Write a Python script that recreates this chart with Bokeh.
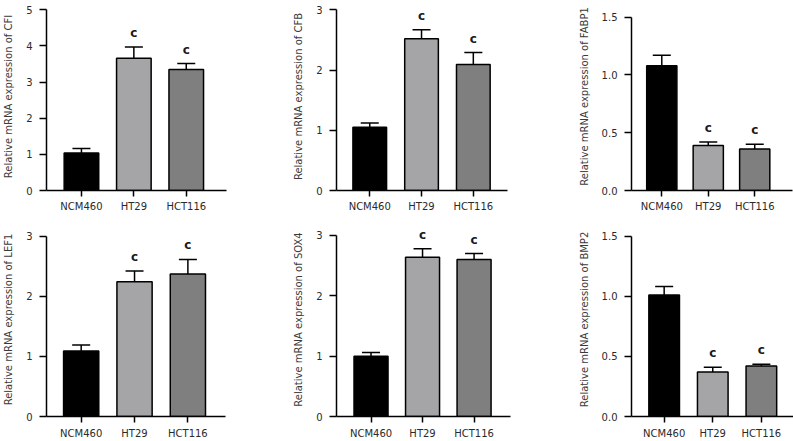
from bokeh.plotting import figure
from bokeh.layouts import row, column
from bokeh.models import FixedTicker, Range1d, Whisker, ColumnDataSource, TeeHead, PrintfTickFormatter
from bokeh.core.properties import value
from bokeh.embed import file_html
from bokeh.resources import INLINE

# ---------------- data ----------------
categories = ["NCM460", "HT29", "HCT116"]
sig_labels = ["", "c", "c"]

cfi_mean = [1.04, 3.66, 3.35]
cfi_sd = [0.12, 0.31, 0.16]
cfb_mean = [1.05, 2.52, 2.09]
cfb_sd = [0.07, 0.15, 0.20]
fabp1_mean = [1.08, 0.39, 0.36]
fabp1_sd = [0.09, 0.03, 0.04]
lef1_mean = [1.09, 2.24, 2.37]
lef1_sd = [0.10, 0.18, 0.24]
sox4_mean = [1.00, 2.64, 2.60]
sox4_sd = [0.06, 0.14, 0.10]
bmp2_mean = [1.01, 0.37, 0.42]
bmp2_sd = [0.07, 0.04, 0.015]

ticks_cfi = [0, 1, 2, 3, 4, 5]
ticks_3 = [0, 1, 2, 3]
ticks_15 = [0, 0.5, 1.0, 1.5]

bar_colors = ["#000000", "#a5a5a7", "#7f7f7f"]
FONT = "DejaVu Sans"
TXT = "#2a2a2a"


def panel(gene, means, sds, ticks, fmt, width, height, x_start, x_end, y_end,
          bl, br, bt, bb, bar_w, xstand):
    xs = list(range(len(categories)))
    tops = [m + s for m, s in zip(means, sds)]
    src = ColumnDataSource(dict(x=xs, mean=means, top=tops,
                                color=bar_colors, sig=sig_labels))
    p = figure(width=width, height=height,
               x_range=Range1d(x_start, x_end), y_range=Range1d(0, y_end),
               output_backend="svg", toolbar_location=None,
               min_border_left=bl, min_border_right=br,
               min_border_top=bt, min_border_bottom=bb)
    p.outline_line_color = None
    p.background_fill_color = "white"
    p.border_fill_color = "white"
    p.xgrid.visible = False
    p.ygrid.visible = False

    p.vbar(x="x", top="mean", bottom=0, width=bar_w, fill_color="color",
           line_color="black", line_width=1.5, source=src)
    wh = Whisker(base="x", lower="mean", upper="top", source=src,
                 dimension="height", line_color="black", line_width=1.5,
                 lower_head=None,
                 upper_head=TeeHead(size=18, line_color="black", line_width=1.5))
    p.add_layout(wh)
    p.text(x="x", y="top", text="sig", source=src, text_align="center",
           text_baseline="bottom", y_offset=-7,
           text_font=value(FONT), text_font_size="12px",
           text_font_style="bold", text_color="#1a1a1a")

    xa = p.xaxis[0]
    xa.ticker = FixedTicker(ticks=xs, minor_ticks=[])
    xa.major_label_overrides = {i: c for i, c in enumerate(categories)}
    xa.major_tick_out = 6
    xa.major_tick_in = 0
    xa.minor_tick_out = 0
    xa.minor_tick_in = 0
    xa.major_label_standoff = xstand
    xa.axis_line_width = 1.5
    xa.major_tick_line_width = 1.5
    xa.axis_line_color = "black"
    xa.major_tick_line_color = "black"
    xa.major_label_text_font = FONT
    xa.major_label_text_font_size = "10px"
    xa.major_label_text_color = TXT

    ya = p.yaxis[0]
    ya.ticker = FixedTicker(ticks=ticks, minor_ticks=[])
    ya.formatter = PrintfTickFormatter(format=fmt)
    ya.bounds = (0, ticks[-1])
    ya.major_tick_out = 7
    ya.major_tick_in = 0
    ya.minor_tick_out = 0
    ya.minor_tick_in = 0
    ya.major_label_standoff = 7
    ya.axis_line_width = 1.5
    ya.major_tick_line_width = 1.5
    ya.axis_line_color = "black"
    ya.major_tick_line_color = "black"
    ya.major_label_text_font = FONT
    ya.major_label_text_font_size = "10px"
    ya.major_label_text_color = TXT
    ya.axis_label = "Relative mRNA expression of " + gene
    ya.axis_label_text_font = FONT
    ya.axis_label_text_font_size = "10px"
    ya.axis_label_text_font_style = "normal"
    ya.axis_label_text_color = "#3a3a3a"
    ya.axis_label_standoff = 9
    return p


p1 = panel("CFI", cfi_mean, cfi_sd, ticks_cfi, "%d", 290, 220, -0.667, 2.768, 5.20, 43, 64, 2, 30, 0.66, 4)
p2 = panel("CFB", cfb_mean, cfb_sd, ticks_3, "%d", 285, 220, -0.642, 2.66, 3.121, 36, 68, 2, 30, 0.65, 4)
p3 = panel("FABP1", fabp1_mean, fabp1_sd, ticks_15, "%.1f", 218, 220, -0.652, 2.813, 1.626, 38, 1, 2, 29, 0.65, 4)
p4 = panel("LEF1", lef1_mean, lef1_sd, ticks_3, "%d", 290, 221, -0.65, 2.705, 3.225, 43, 65, 2, 23, 0.66, 5)
p5 = panel("SOX4", sox4_mean, sox4_sd, ticks_3, "%d", 285, 221, -0.67, 2.707, 3.214, 37, 65, 2, 24, 0.66, 5)
p6 = panel("BMP2", bmp2_mean, bmp2_sd, ticks_15, "%.1f", 218, 221, -0.672, 2.661, 1.613, 38, 0, 2, 23, 0.63, 5)

layout = column(row(p1, p2, p3), row(p4, p5, p6))

open("out.html", "w").write(file_html(layout, INLINE))
